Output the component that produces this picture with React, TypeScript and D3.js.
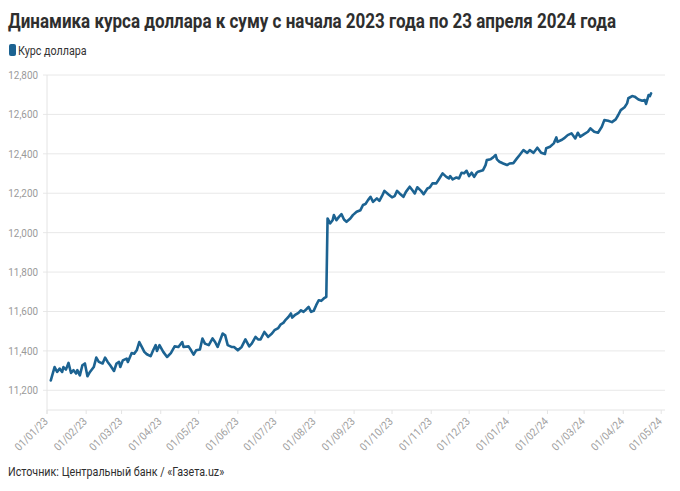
import React from "react";
import * as d3 from "d3";

const TITLE = "Динамика курса доллара к суму с начала 2023 года по 23 апреля 2024 года";
const SERIES_NAME = "Курс доллара";
const SOURCE = "Источник: Центральный банк / «Газета.uz»";

const dates: string[] = [
  "2023-01-04","2023-01-07","2023-01-09","2023-01-11","2023-01-13","2023-01-14","2023-01-16","2023-01-18","2023-01-20","2023-01-22",
  "2023-01-24","2023-01-25","2023-01-27","2023-01-29","2023-01-31","2023-02-02","2023-02-04","2023-02-07","2023-02-09","2023-02-11",
  "2023-02-14","2023-02-16","2023-02-18","2023-02-20","2023-02-23","2023-02-25","2023-02-27","2023-02-28","2023-03-02","2023-03-05",
  "2023-03-06","2023-03-09","2023-03-11","2023-03-13","2023-03-15","2023-03-17","2023-03-19","2023-03-21","2023-03-24","2023-03-26",
  "2023-03-28","2023-03-29","2023-03-31","2023-04-03","2023-04-06","2023-04-09","2023-04-12","2023-04-15","2023-04-18","2023-04-19",
  "2023-04-23","2023-04-25","2023-04-27","2023-04-29","2023-05-02","2023-05-04","2023-05-06","2023-05-09","2023-05-12","2023-05-14",
  "2023-05-16","2023-05-18","2023-05-20","2023-05-22","2023-05-24","2023-05-27","2023-05-29","2023-06-01","2023-06-04","2023-06-07",
  "2023-06-10","2023-06-12","2023-06-15","2023-06-17","2023-06-19","2023-06-22","2023-06-25","2023-06-28","2023-06-30","2023-07-03",
  "2023-07-05","2023-07-07","2023-07-09","2023-07-11","2023-07-13","2023-07-14","2023-07-16","2023-07-19","2023-07-21","2023-07-23",
  "2023-07-25","2023-07-27","2023-07-29","2023-07-31","2023-08-02","2023-08-04","2023-08-06","2023-08-08","2023-08-10","2023-08-11",
  "2023-08-13","2023-08-15","2023-08-16","2023-08-18","2023-08-20","2023-08-22","2023-08-24","2023-08-26","2023-08-29","2023-08-31",
  "2023-09-03","2023-09-06","2023-09-08","2023-09-10","2023-09-12","2023-09-14","2023-09-16","2023-09-19","2023-09-21","2023-09-23",
  "2023-09-25","2023-09-28","2023-10-01","2023-10-03","2023-10-05","2023-10-07","2023-10-10","2023-10-12","2023-10-15","2023-10-17",
  "2023-10-19","2023-10-21","2023-10-24","2023-10-26","2023-10-29","2023-10-31","2023-11-02","2023-11-05","2023-11-07","2023-11-10",
  "2023-11-13","2023-11-15","2023-11-16","2023-11-18","2023-11-21","2023-11-23","2023-11-25","2023-11-27","2023-11-29","2023-12-01",
  "2023-12-03","2023-12-05","2023-12-07","2023-12-08","2023-12-12","2023-12-14","2023-12-15","2023-12-18","2023-12-20","2023-12-22",
  "2023-12-23","2023-12-25","2023-12-28","2023-12-31","2024-01-02","2024-01-05","2024-01-08","2024-01-10","2024-01-13","2024-01-16",
  "2024-01-18","2024-01-21","2024-01-24","2024-01-27","2024-01-30","2024-01-31","2024-02-03","2024-02-06","2024-02-08","2024-02-09",
  "2024-02-12","2024-02-14","2024-02-17","2024-02-20","2024-02-23","2024-02-25","2024-02-27","2024-03-01","2024-03-04","2024-03-06",
  "2024-03-09","2024-03-12","2024-03-15","2024-03-17","2024-03-20","2024-03-23","2024-03-26","2024-03-28","2024-03-30","2024-04-02",
  "2024-04-04","2024-04-05","2024-04-08","2024-04-10","2024-04-13","2024-04-16","2024-04-18","2024-04-19","2024-04-21","2024-04-22",
  "2024-04-23"
];

const rates: number[] = [
  11250,11318,11293,11310,11293,11318,11305,11339,11288,11302,
  11285,11302,11276,11327,11336,11271,11293,11318,11366,11344,
  11336,11366,11344,11327,11298,11336,11344,11318,11352,11361,
  11344,11389,11386,11403,11445,11420,11395,11383,11373,11403,
  11429,11400,11429,11395,11369,11389,11423,11420,11445,11420,
  11423,11403,11381,11403,11407,11463,11437,11429,11463,11445,
  11420,11454,11488,11479,11429,11420,11420,11403,11420,11458,
  11423,11437,11471,11458,11458,11496,11471,11488,11505,11516,
  11535,11542,11559,11572,11590,11569,11581,11593,11606,11598,
  11610,11623,11598,11603,11632,11657,11654,11666,11674,12072,
  12047,12063,12089,12063,12080,12094,12067,12055,12072,12089,
  12106,12114,12140,12145,12165,12182,12156,12174,12161,12185,
  12212,12195,12179,12185,12212,12199,12182,12207,12233,12216,
  12199,12230,12212,12195,12224,12230,12250,12250,12270,12301,
  12283,12275,12287,12270,12280,12275,12304,12301,12314,12287,
  12304,12283,12304,12309,12317,12343,12368,12372,12382,12394,
  12372,12360,12351,12343,12351,12353,12378,12394,12419,12405,
  12419,12405,12431,12405,12399,12428,12436,12453,12483,12461,
  12470,12478,12495,12504,12478,12507,12487,12500,12512,12529,
  12512,12507,12537,12571,12568,12561,12575,12597,12622,12636,
  12656,12682,12693,12690,12676,12669,12673,12653,12698,12693,
  12707
];

const yTicks: number[] = [11200, 11400, 11600, 11800, 12000, 12200, 12400, 12600, 12800];
const xTickLabels: string[] = [
  "01/01/23","01/02/23","01/03/23","01/04/23","01/05/23","01/06/23","01/07/23","01/08/23","01/09/23",
  "01/10/23","01/11/23","01/12/23","01/01/24","01/02/24","01/03/24","01/04/24","01/05/24"
];

const W = 680, H = 491;
const LEFT = 47, RIGHT = 665, TOP = 75, BOTTOM = 410;
const LINE_COLOR = "#1c6392";
const FONT = "Roboto, 'Noto Sans', sans-serif";

export default function App() {
  const parse = d3.timeParse("%Y-%m-%d");
  const tickParse = d3.timeParse("%d/%m/%y");
  const data = dates.map((d, i) => ({ date: parse(d) as Date, value: rates[i] }));

  const x = d3.scaleTime()
    .domain([new Date(2023, 0, 1), new Date(2024, 4, 4)])
    .range([LEFT, RIGHT]);
  const y = d3.scaleLinear().domain([11100, 12800]).range([BOTTOM, TOP]);

  const line = d3.line<{ date: Date; value: number }>()
    .x(d => x(d.date))
    .y(d => y(d.value))
    .curve(d3.curveLinear);

  const fmt = d3.format(",");

  return (
    <svg width={W} height={H} style={{ position: "absolute", left: 0, top: 0, background: "#fff" }}>
      <g transform="translate(8,28) scale(0.81,1)">
        <text x={0} y={0} fontFamily={FONT} fontWeight={700} fontSize={21} fill="#2e2e2e">{TITLE}</text>
      </g>

      <rect x={9} y={44} width={7} height={12} rx={2} fill={LINE_COLOR} />
      <g transform="translate(18,54.5) scale(0.86,1)">
        <text x={0} y={0} fontFamily={FONT} fontSize={12.5} fill="#333">{SERIES_NAME}</text>
      </g>

      {yTicks.map(t => (
        <g key={t}>
          <line x1={43} x2={RIGHT} y1={y(t)} y2={y(t)} stroke="#e8e8e8" strokeWidth={1} />
          <g transform={`translate(38,${y(t) + 4}) scale(0.86,1)`}>
            <text x={0} y={0} textAnchor="end" fontFamily={FONT} fontSize={11.5} fill="#9a9a9a">{fmt(t)}</text>
          </g>
        </g>
      ))}

      <line x1={LEFT} x2={LEFT} y1={TOP} y2={BOTTOM + 4} stroke="#e4e4e4" strokeWidth={1} />
      <line x1={LEFT} x2={RIGHT} y1={BOTTOM} y2={BOTTOM} stroke="#e4e4e4" strokeWidth={1} />

      {xTickLabels.map(lbl => {
        const tx = x(tickParse(lbl) as Date);
        return (
          <g key={lbl}>
            <line x1={tx} x2={tx} y1={BOTTOM} y2={BOTTOM + 4} stroke="#e4e4e4" />
            <g transform={`translate(${tx},${BOTTOM + 8}) rotate(-45) scale(0.9,1)`}>
              <text x={-2} y={4} textAnchor="end" fontFamily={FONT} fontSize={11} fill="#a0a0a0">{lbl}</text>
            </g>
          </g>
        );
      })}

      <path d={line(data) || ""} fill="none" stroke={LINE_COLOR} strokeWidth={2.6}
        strokeLinejoin="round" strokeLinecap="round" />

      <g transform="translate(8,476) scale(0.86,1)">
        <text x={0} y={0} fontFamily={FONT} fontSize={12.5} fill="#2e2e2e">{SOURCE}</text>
      </g>
    </svg>
  );
}
